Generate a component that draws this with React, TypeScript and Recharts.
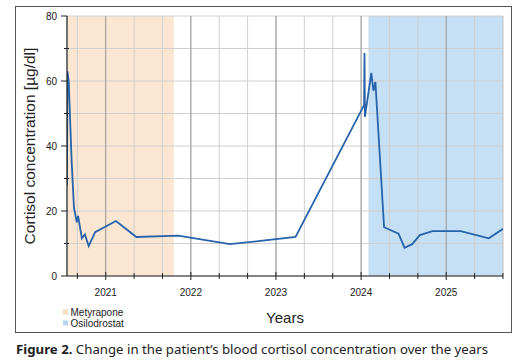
import { LineChart, Line, XAxis, YAxis, CartesianGrid, ReferenceArea, ReferenceLine, Label } from "recharts";

// cortisol measurements (decimal year, µg/dl)
const years = [2020.545, 2020.55, 2020.565, 2020.6, 2020.627, 2020.66, 2020.675, 2020.72, 2020.755, 2020.8, 2020.875, 2021.12, 2021.36, 2021.85, 2022.46, 2023.23, 2024.035, 2024.04, 2024.045, 2024.12, 2024.145, 2024.168, 2024.27, 2024.44, 2024.51, 2024.6, 2024.69, 2024.84, 2025.17, 2025.5, 2025.667];
const cortisol = [28, 63, 60, 35, 21, 16.5, 18.5, 11.6, 12.8, 9.2, 13.5, 16.9, 12, 12.4, 9.8, 12, 52.6, 68.6, 49, 62.5, 57, 59.7, 15, 13, 8.7, 9.8, 12.6, 13.8, 13.8, 11.6, 14.5];

const yearLabels = [2021, 2022, 2023, 2024, 2025];
const yTicks = [0, 10, 20, 30, 40, 50, 60, 70, 80];

// treatment periods
const metyrapone = [2020.556, 2021.8];
const osilodrostat = [2024.086, 2025.667];

const xTicks = [2020 + 2 / 3, ...yearLabels.flatMap((y) => [y, y + 1 / 3, y + 2 / 3])];
const data = years.map((t, i) => ({ t, v: cortisol[i] }));

const isYear = (v: number) => Math.abs(v - Math.round(v)) < 1e-6;

function XTick(props: any) {
  const { x, y, payload } = props;
  const major = isYear(payload.value);
  return (
    <g>
      <line x1={x} x2={x} y1={major ? y - 4 : y - 3} y2={major ? y + 4 : y + 3} stroke="#222" strokeWidth={1} />
      {major && (
        <text x={x} y={y + 20} textAnchor="middle" fontSize={10} fill="#222">
          {Math.round(payload.value)}
        </text>
      )}
    </g>
  );
}

function YTick(props: any) {
  const { x, y, payload } = props;
  const major = payload.value % 20 === 0;
  return (
    <g>
      <line x1={major ? x - 6 : x - 3} x2={major ? x : x + 2} y1={y} y2={y} stroke="#222" strokeWidth={1} />
      {major && (
        <text x={x - 10} y={y + 3.5} textAnchor="end" fontSize={10} fill="#222">
          {payload.value}
        </text>
      )}
    </g>
  );
}

export default function App() {
  return (
    <div style={{ position: "fixed", left: 0, top: 0, width: 527, height: 364, background: "#fff", fontFamily: "'Liberation Sans', Arial, sans-serif" }}>
      <div style={{ position: "absolute", left: 15, top: 6, width: 495, height: 325, border: "1px solid #555" }} />
      <div style={{ position: "absolute", left: 0, top: 0 }}>
        <LineChart width={527} height={336} data={data} margin={{ top: 16, right: 24, left: 0, bottom: 0 }}>
          <CartesianGrid stroke="#cfcfcf" strokeWidth={1} />
          <ReferenceArea x1={metyrapone[0]} x2={metyrapone[1]} y1={0} y2={80} fill="#f5c799" fillOpacity={0.45} stroke="none" zIndex={-200} />
          <ReferenceArea x1={osilodrostat[0]} x2={osilodrostat[1]} y1={0} y2={80} fill="#8bc1e9" fillOpacity={0.5} stroke="none" zIndex={-200} />
          {yearLabels.map((y) => (
            <ReferenceLine key={y} x={y} stroke="#9a9a9a" strokeWidth={1} />
          ))}
          <XAxis
            dataKey="t"
            type="number"
            domain={[2020.545, 2025.667]}
            ticks={xTicks}
            interval={0}
            allowDataOverflow
            height={60}
            tickSize={0}
            tickMargin={0}
            tickLine={false}
            tick={XTick}
            axisLine={{ stroke: "#222", strokeWidth: 1.2 }}
          >
            <Label value="Years" position="insideBottom" offset={13} fontSize={15} fill="#222" />
          </XAxis>
          <YAxis
            type="number"
            domain={[0, 80]}
            ticks={yTicks}
            interval={0}
            width={67}
            tickSize={0}
            tickMargin={0}
            tickLine={false}
            tick={YTick}
            axisLine={{ stroke: "#222", strokeWidth: 1.2 }}
          >
            <Label value="Cortisol concentration [µg/dl]" angle={-90} position="center" dx={-4} fontSize={15.5} fill="#222" />
          </YAxis>
          <Line type="linear" dataKey="v" stroke="#2763ab" strokeWidth={1.8} dot={false} isAnimationActive={false} />
        </LineChart>
      </div>
      <svg width={527} height={364} style={{ position: "absolute", left: 0, top: 0, pointerEvents: "none" }}>
        <rect x={63} y={309.5} width={5} height={5} fill="#f7dcc2" />
        <text x={70.5} y={315.5} fontSize={10} fill="#222">Metyrapone</text>
        <rect x={63} y={320.5} width={5} height={5} fill="#b7d6ee" />
        <text x={70.5} y={326.5} fontSize={10} fill="#222">Osilodrostat</text>
        <text x={16} y={354} fontSize={12.5} fill="#222" fontFamily="'Noto Sans', sans-serif" textLength={472} lengthAdjust="spacingAndGlyphs">
          <tspan fontWeight="bold">Figure 2.</tspan> Change in the patient’s blood cortisol concentration over the years
        </text>
      </svg>
    </div>
  );
}
